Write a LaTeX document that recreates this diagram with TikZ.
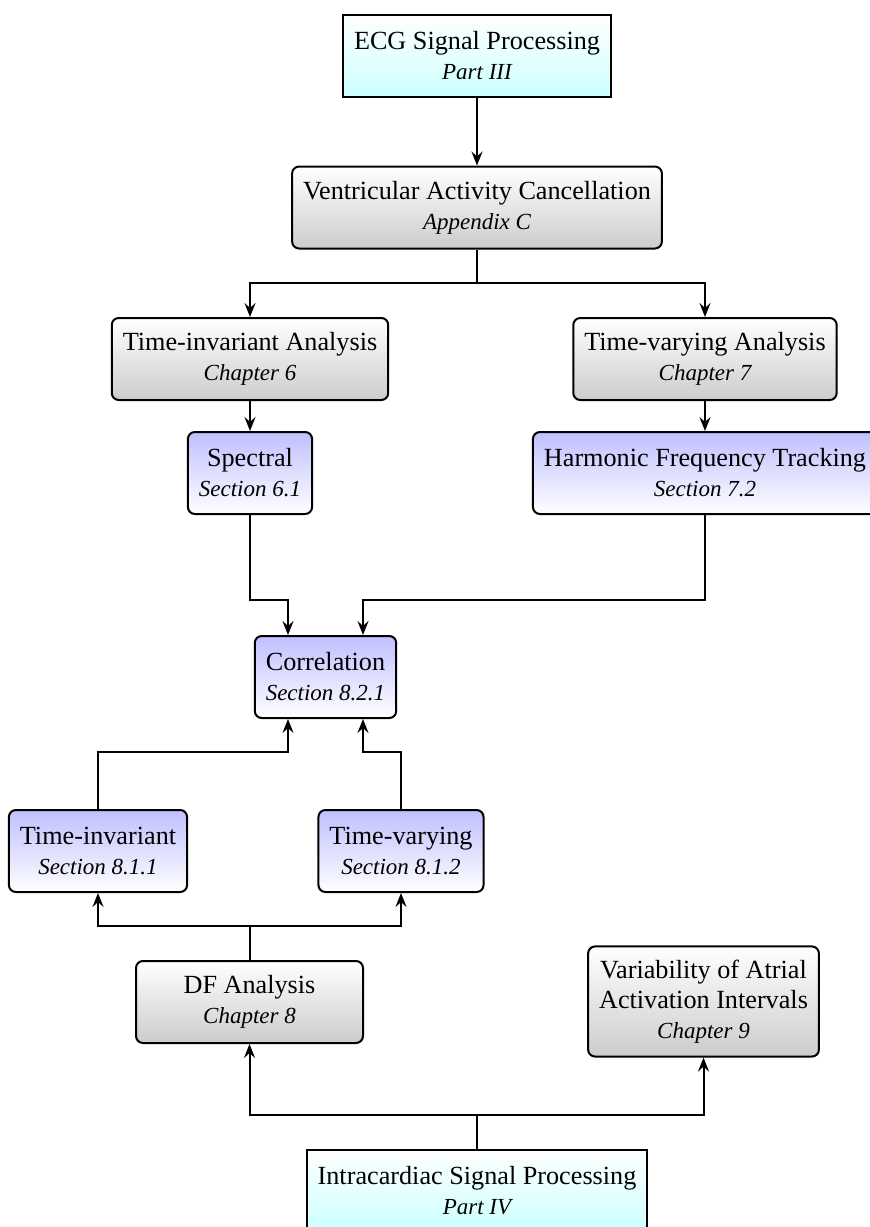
\documentclass[tikz,border=0pt]{standalone}
\usepackage{fontspec}
\setmainfont{Liberation Serif}
\usetikzlibrary{arrows.meta}
\newcommand{\where}[1]{{\fontsize{11.5}{15}\selectfont\itshape #1}}
\tikzset{
  box/.style={draw, line width=1pt, align=center, inner xsep=5.5pt, inner ysep=6.7pt,
    minimum height=41pt, font=\fontsize{13.1}{15}\selectfont},
  partbox/.style={box, top color=white, bottom color=cyan!20},
  chapbox/.style={box, rounded corners=3.5pt, top color=white, bottom color=black!20},
  secbox/.style={box, rounded corners=3.5pt, top color=blue!25, bottom color=white},
}
\begin{document}
\begin{tikzpicture}[x=0.5pt, y=-0.5pt, line width=1pt, >={Stealth[length=7pt,width=5.5pt,inset=2.5pt]}]
        \useasboundingbox (0,0) rectangle (869,1227);
        % boxes
        \node[partbox] (ecg) at (477,56) {ECG Signal Processing\\\where{Part III}};
        \node[chapbox] (vac) at (477,207.5) {Ventricular Activity Cancellation\\\where{Appendix C}};
        \node[chapbox] (tia) at (250,359) {Time-invariant Analysis\\\where{Chapter 6}};
        \node[chapbox] (tva) at (705,359) {Time-varying Analysis\\\where{Chapter 7}};
        \node[secbox] (spec) at (250,473) {Spectral\\\where{Section 6.1}};
        \node[secbox] (hft) at (705,473) {Harmonic Frequency Tracking\\\where{Section 7.2}};
        \node[secbox] (corr) at (325.5,677) {Correlation\\\where{Section 8.2.1}};
        \node[secbox] (ti) at (98,851) {Time-invariant\\\where{Section 8.1.1}};
        \node[secbox] (tv) at (401,851) {Time-varying\\\where{Section 8.1.2}};
        \node[chapbox, minimum width=113.5pt] (df) at (249.5,1002) {DF Analysis\\\where{Chapter 8}};
        \node[chapbox] (var) at (703.5,1001.5) {Variability of Atrial\\Activation Intervals\\\where{Chapter 9}};
        \node[partbox] (icsp) at (477,1191) {Intracardiac Signal Processing\\\where{Part IV}};
        % junctions
        \coordinate (vacsplit) at (477,283);
        \coordinate (corrin1) at (288,600);
        \coordinate (corrin2) at (363,600);
        \coordinate (corrout1) at (288,752);
        \coordinate (corrout2) at (363,752);
        \coordinate (dfsplit) at (249.5,926);
        \coordinate (icspsplit) at (477,1115);
        % connectors
        \draw[->] (ecg) -- (vac);
        \draw (vac) -- (vacsplit);
        \draw[->] (vacsplit) -| (tia);
        \draw[->] (vacsplit) -| (tva);
        \draw[->] (tia) -- (spec);
        \draw[->] (tva) -- (hft);
        \draw[->] (spec) |- (corrin1) -- (corrin1 |- corr.north);
        \draw[->] (hft) |- (corrin2) -- (corrin2 |- corr.north);
        \draw[->] (ti) |- (corrout1) -- (corrout1 |- corr.south);
        \draw[->] (tv) |- (corrout2) -- (corrout2 |- corr.south);
        \draw (df) -- (dfsplit);
        \draw[->] (dfsplit) -| (ti);
        \draw[->] (dfsplit) -| (tv);
        \draw (icsp) -- (icspsplit);
        \draw[->] (icspsplit) -| (df);
        \draw[->] (icspsplit) -| (var);
\end{tikzpicture}
\end{document}
